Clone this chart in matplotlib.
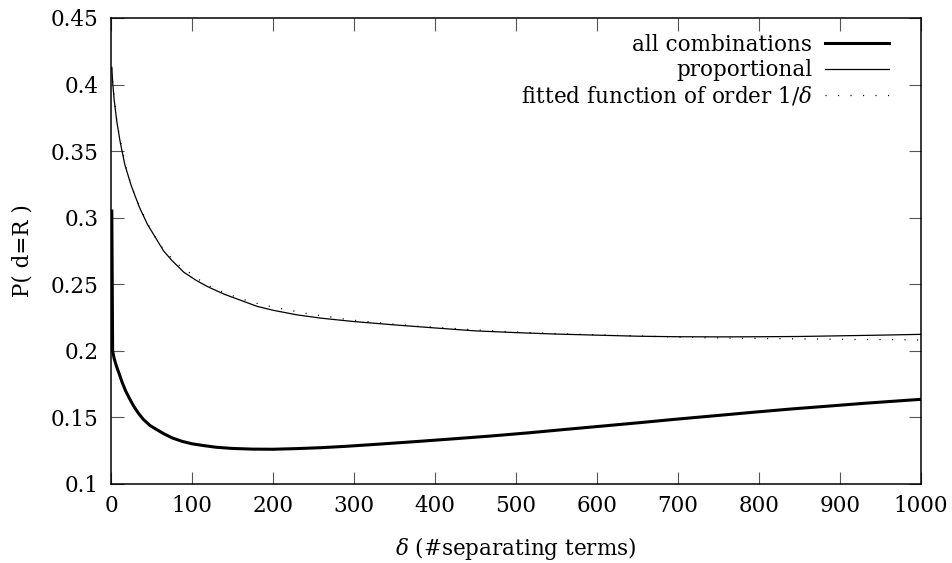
import matplotlib

matplotlib.use("Agg")
import matplotlib.pyplot as plt

# values
delta_all = [1, 2, 4, 7, 10, 14, 18, 23, 28, 34, 40, 48, 56, 65, 76, 88, 100, 115, 130,
             150, 175, 200, 230, 260, 290, 330, 375, 420, 468, 515, 561, 610, 655, 700,
             748, 795, 841, 890, 934, 1000]
p_all = [0.305, 0.200, 0.194, 0.188, 0.183, 0.176, 0.170, 0.164, 0.1585, 0.153, 0.1485,
         0.1440, 0.1410, 0.1378, 0.1345, 0.1320, 0.1302, 0.1288, 0.1276, 0.1267, 0.1262,
         0.1261, 0.1266, 0.1273, 0.1283, 0.1299, 0.1318, 0.1338, 0.1360, 0.1384, 0.1410,
         0.1437, 0.1462, 0.1488, 0.1514, 0.1540, 0.1564, 0.1587, 0.1608, 0.1636]

delta_prop = [1, 2, 4, 7, 11, 17, 25, 35, 45, 55, 65, 75, 90, 105, 120, 140, 160, 180,
              200, 230, 260, 300, 350, 400, 450, 500, 550, 600, 650, 700, 750, 800, 850,
              900, 950, 1000]
p_prop = [0.413, 0.402, 0.388, 0.373, 0.358, 0.340, 0.324, 0.308, 0.295, 0.285, 0.275,
          0.268, 0.259, 0.253, 0.248, 0.2425, 0.238, 0.2335, 0.2305, 0.2270, 0.2245,
          0.2220, 0.2195, 0.2172, 0.2150, 0.2137, 0.2126, 0.2118, 0.2110, 0.2106, 0.2105,
          0.2106, 0.2108, 0.2113, 0.2118, 0.2124]

delta_fit = [1, 2, 4, 7, 10, 13, 18, 25, 32, 44, 52, 60, 71, 82, 95, 108, 125, 145, 163,
             180, 194, 210, 225, 240, 256, 272, 287, 303, 318, 334, 350, 366, 381, 397,
             429, 461, 494, 525, 557, 590, 640, 690, 740, 800, 900, 1000]
p_fit = [0.412, 0.403, 0.390, 0.3734, 0.3634, 0.3533, 0.339, 0.324, 0.313, 0.297, 0.288,
         0.280, 0.272, 0.2652, 0.2595, 0.2537, 0.2475, 0.2425, 0.2387, 0.2357, 0.2337,
         0.2317, 0.2300, 0.2282, 0.2267, 0.2254, 0.2240, 0.2228, 0.2219, 0.2209, 0.2200,
         0.2192, 0.2184, 0.2178, 0.2166, 0.2154, 0.2143, 0.2135, 0.2128, 0.2122, 0.2114,
         0.2105, 0.2098, 0.2093, 0.2087, 0.2082]

x_ticks = list(range(0, 1001, 100))
y_ticks = [0.1, 0.15, 0.2, 0.25, 0.3, 0.35, 0.4, 0.45]
y_tick_labels = ["0.1", "0.15", "0.2", "0.25", "0.3", "0.35", "0.4", "0.45"]

plt.rcParams["font.family"] = ["DejaVu Serif"]
plt.rcParams["mathtext.fontset"] = "dejavuserif"
plt.rcParams["font.size"] = 15.5
plt.rcParams["lines.scale_dashes"] = False


def main() -> None:
    fig = plt.figure(figsize=(9.53, 5.63), dpi=100)
    ax = fig.add_axes([111 / 953, 1 - 484 / 563, 810 / 953, 466 / 563])

    ax.plot(delta_all, p_all, color="black", lw=2.2, label="all combinations")
    ax.plot(delta_prop, p_prop, color="black", lw=0.9, label="proportional")
    ax.plot(delta_fit, p_fit, color="black", lw=0.9, linestyle=(0, (0.8, 8.2)),
            label=r"fitted function of order $1/\delta$")

    ax.set_xlim(0, 1000)
    ax.set_ylim(0.1, 0.45)
    ax.set_xticks(x_ticks)
    ax.set_yticks(y_ticks)
    ax.set_yticklabels(y_tick_labels)
    ax.tick_params(direction="in", length=9, width=0.8, color="#555555",
                   top=True, right=True)
    ax.tick_params(axis="x", pad=8)
    ax.tick_params(axis="y", pad=9)
    for spine in ax.spines.values():
        spine.set_linewidth(1.1)

    ax.set_xlabel(r"$\delta$ (#separating terms)", labelpad=13)
    ax.set_ylabel("P( d=R )", labelpad=12)

    ax.legend(loc="upper right", bbox_to_anchor=(0.971, 0.985), frameon=False,
              markerfirst=False, handlelength=2.95, handletextpad=0.6,
              labelspacing=0.16, borderaxespad=0.0)

    fig.savefig("out.png", dpi=100)
    plt.close(fig)


if __name__ == "__main__":
    main()
